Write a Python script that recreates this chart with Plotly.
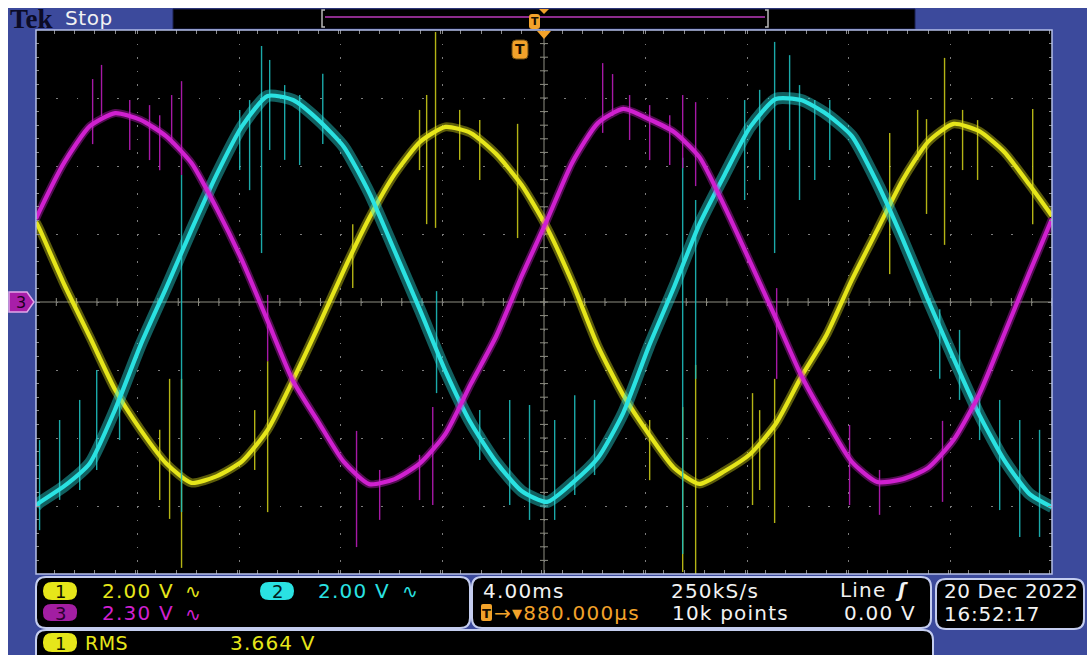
import plotly.graph_objects as go

W, H = 1087, 655

# ---------------- data (read from the screen) ----------------
# time relative to trigger, ms (4.00 ms/div, trigger 880 us left of centre)
t_ms = [-19.12, -19, -18, -17, -16, -15, -14, -13, -12, -11, -10, -9, -8, -7, -6, -5,
        -4, -3, -2, -1, 0, 1, 2, 3, 4, 5, 6, 7, 8, 9, 10, 11, 12, 13, 14, 15, 16,
        17, 18, 19, 20, 20.88]
# channel 1 (yellow) volts, 2.00 V/div
ch1_v = [2.35, 2.18, 0.50, -1.03, -2.59, -3.76, -4.74, -5.32, -5.12, -4.68, -3.76,
         -2.29, -0.71, 0.94, 2.47, 3.76, 4.71, 5.15, 4.97, 4.35, 3.44, 2.18, 0.56,
         -1.29, -2.74, -3.88, -4.88, -5.35, -4.97, -4.47, -3.59, -2.21, -0.97, 0.65,
         2.12, 3.59, 4.71, 5.24, 5.03, 4.41, 3.44, 2.53]
# channel 2 (cyan) volts, 2.00 V/div
ch2_v = [-6.00, -5.91, -5.41, -4.74, -3.15, -1.26, 0.41, 2.12, 3.76, 5.18, 6.06, 5.94,
         5.35, 4.56, 3.21, 1.50, -0.24, -2.03, -3.56, -4.71, -5.56, -5.88, -5.32,
         -4.59, -3.26, -1.32, 0.44, 2.29, 3.76, 5.15, 5.97, 5.94, 5.53, 4.88, 3.50,
         1.85, 0.06, -1.65, -3.29, -4.65, -5.65, -6.03]
# channel 3 (magenta) volts, 2.30 V/div
ch3_v = [2.81, 3.04, 4.73, 5.95, 6.39, 6.16, 5.61, 4.70, 3.15, 1.39, -0.64, -2.67,
         -4.06, -5.41, -6.16, -5.99, -5.45, -4.46, -2.77, -1.15, 0.88, 2.77, 4.73,
         6.05, 6.53, 6.19, 5.75, 4.90, 3.21, 1.35, -0.54, -2.47, -4.02, -5.41, -6.09,
         -5.99, -5.61, -4.67, -3.15, -1.08, 1.01, 2.81]

# switching spikes: time (ms), low and high excursion (V)
ch1_spk_t = [-13.39, -13.86, -10.0, -3.39, -3.74, -0.16, -6.65, 6.85, 6.34, 9.09, 9.96,
             16.65, 15.94, 14.49, 20.12, -4.02, -2.44, -1.65, 15.59, 17.36, 17.95,
             -14.25, 5.04, 9.37, -10.51]
ch1_spk_lo = [-7.82, -6.38, -6.18, 2.18, 2.29, 1.88, 0.41, -8.03, -7.94, -5.97, -6.50,
              1.68, 2.59, 0.82, 2.29, 3.88, 4.18, 3.59, 4.18, 3.88, 3.59,
              -5.82, -5.24, -5.53, -4.94]
ch1_spk_hi = [-2.26, -2.26, -1.74, 7.94, 6.09, 5.24, 2.29, -1.85, -3.09, -2.68, -2.26,
              7.18, 5.38, 4.97, 5.68, 5.65, 5.65, 5.35, 5.65, 5.65, 5.35,
              -3.76, -3.47, -3.18, -3.18]

ch2_spk_t = [-10.24, -13.39, -3.35, -7.83, 6.85, 6.34, 9.96, 16.46, -18.19, -17.40,
             -16.73, -0.47, 0.31, 2.09, 2.87, 18.82, 19.61, 20.39, -9.92, 10.55, -8.74,
             11.54, -11.10, -10.71, -9.33, 8.78, 9.37, 10.94, 12.13, -18.98, -15.83,
             -1.65, 1.30, 18.03, 17.24]
ch2_spk_lo = [1.44, -6.18, -2.68, 4.65, -2.26, -7.41, 1.44, -2.26, -5.82, -5.53, -4.94,
              -5.97, -6.41, -5.68, -5.09, -6.12, -6.91, -6.91, 4.47, 4.47, 4.03, 3.59,
              3.88, 3.29, 4.18, 3.00, 3.59, 3.00, 4.18, -6.71, -4.06,
              -4.65, -6.41, -4.06, -2.88]
ch2_spk_hi = [7.53, 3.74, 0.32, 6.71, 3.00, 4.24, 7.65, -0.21, -3.47, -2.88, -2.00,
              -2.88, -3.03, -2.74, -2.88, -2.88, -3.47, -3.76, 7.12, 7.26, 6.09, 5.94,
              5.65, 5.94, 6.38, 5.94, 6.24, 6.38, 5.94, -4.06, -2.59,
              -3.18, -3.47, -2.59, -0.82]

ch3_spk_t = [-16.54, -16.89, -13.39, -13.78, -10.0, -6.50, -3.50, 3.58, 3.19, 6.34, 6.85,
             10.04, 16.57, 12.91, -15.43, -14.65, -14.25, 4.25, 5.04, 5.83, -5.59,
             14.09, -4.02]
ch3_spk_lo = [6.29, 5.34, 4.30, 5.34, -2.00, -8.29, -6.87, 6.29, 5.72, 4.53, 3.92,
              -2.60, -6.76, -6.87, 5.14, 4.80, 4.46, 5.48, 4.80, 4.63, -7.37,
              -7.20, -6.70]
ch3_spk_hi = [8.02, 7.54, 7.47, 7.00, 0.24, -4.36, -3.55, 7.71, 8.08, 7.00, 6.76,
              0.47, -4.02, -4.16, 6.83, 6.66, 6.32, 7.00, 6.66, 6.32, -5.68,
              -5.68, -5.17]

# ---------------- colours ----------------
YEL = "#e6e61a"
CYA = "#2ae2e2"
MAG = "#d020d0"
BLUE = "#3c4a9c"
ORANGE = "#f2a22a"
WHITE = "#f2f2f2"
FONT = "DejaVu Sans"


def X(px):
    return px / W


def Y(py):
    return 1 - py / H


def spikes(ts, lo, hi):
    xs, ys = [], []
    for t, a, b in zip(ts, lo, hi):
        xs += [t, t, None]
        ys += [a, b, None]
    return xs, ys


fig = go.Figure()

channels = [
    (ch1_v, ch1_spk_t, ch1_spk_lo, ch1_spk_hi, YEL, "#c8c818", "y", 9, 0.4),
    (ch3_v, ch3_spk_t, ch3_spk_lo, ch3_spk_hi, MAG, "#b81cb8", "y3", 8, 0.4),
    (ch2_v, ch2_spk_t, ch2_spk_lo, ch2_spk_hi, CYA, "#1ebcbc", "y2", 12, 0.42),
]
for v, st, slo, shi, col, dark, ax, hw, hop in channels:
    sx, sy = spikes(st, slo, shi)
    fig.add_trace(go.Scatter(x=sx, y=sy, mode="lines", yaxis=ax,
                             line=dict(color=dark, width=1.4), opacity=0.9,
                             hoverinfo="skip", showlegend=False))
    fig.add_trace(go.Scatter(x=t_ms, y=v, mode="lines", yaxis=ax,
                             line=dict(color=col, width=hw, shape="spline", smoothing=0.6),
                             opacity=hop, hoverinfo="skip", showlegend=False))
    fig.add_trace(go.Scatter(x=t_ms, y=v, mode="lines", yaxis=ax,
                             line=dict(color=col, width=4.2, shape="spline", smoothing=0.6),
                             hoverinfo="skip", showlegend=False))

shapes = []
# white strips on the outer edge
shapes.append(dict(type="rect", xref="paper", yref="paper", x0=0, x1=1, y0=Y(8), y1=1,
                   fillcolor="white", line_width=0, layer="above"))
shapes.append(dict(type="rect", xref="paper", yref="paper", x0=0, x1=X(8), y0=0, y1=1,
                   fillcolor="white", line_width=0, layer="above"))


def rrect(x0, y0, x1, y1, r, fill, line="#c4cdef", lw=2):
    p = (f"M {X(x0 + r)},{Y(y0)} L {X(x1 - r)},{Y(y0)} Q {X(x1)},{Y(y0)} {X(x1)},{Y(y0 + r)} "
         f"L {X(x1)},{Y(y1 - r)} Q {X(x1)},{Y(y1)} {X(x1 - r)},{Y(y1)} "
         f"L {X(x0 + r)},{Y(y1)} Q {X(x0)},{Y(y1)} {X(x0)},{Y(y1 - r)} "
         f"L {X(x0)},{Y(y0 + r)} Q {X(x0)},{Y(y0)} {X(x0 + r)},{Y(y0)} Z")
    return dict(type="path", xref="paper", yref="paper", path=p, fillcolor=fill,
                line=dict(color=line, width=lw), layer="above")


# top record-view bar
shapes.append(dict(type="rect", xref="paper", yref="paper", x0=X(173), x1=X(915), y0=Y(29),
                   y1=Y(9), fillcolor="#000000", line=dict(color="#1a2050", width=1), layer="above"))
shapes.append(dict(type="line", xref="paper", yref="paper", x0=X(325), x1=X(765), y0=Y(17),
                   y1=Y(17), line=dict(color="#8c2c8c", width=2), layer="above"))
for bx, d in ((322, 1), (768, -1)):
    shapes.append(dict(type="path", xref="paper", yref="paper",
                       path=f"M {X(bx + 3 * d)},{Y(10)} L {X(bx)},{Y(10)} L {X(bx)},{Y(27)} L {X(bx + 3 * d)},{Y(27)}",
                       line=dict(color="#b8b8b8", width=1.5), layer="above"))
shapes.append(dict(type="path", xref="paper", yref="paper",
                   path=f"M {X(539)},{Y(9)} L {X(549)},{Y(9)} L {X(544)},{Y(14)} Z",
                   fillcolor=ORANGE, line_width=0, layer="above"))
shapes.append(rrect(529, 14, 540, 29, 3, ORANGE, line=ORANGE, lw=0))

# plot frame
shapes.append(dict(type="rect", xref="paper", yref="paper", x0=X(36), x1=X(1052), y0=Y(574),
                   y1=Y(30), line=dict(color="#b4bfe8", width=1.5), layer="above"))
# trigger markers inside the graticule
shapes.append(dict(type="path", xref="paper", yref="paper",
                   path=f"M {X(537)},{Y(31)} L {X(551)},{Y(31)} L {X(544)},{Y(39)} Z",
                   fillcolor=ORANGE, line_width=0, layer="above"))
shapes.append(rrect(512, 40, 528, 59, 4, ORANGE, line="#6a4a10", lw=1))

# centre crosshair
shapes.append(dict(type="line", xref="x", yref="y domain", x0=0.88, x1=0.88, y0=0, y1=1,
                   line=dict(color="#8e8e82", width=1), layer="below"))
shapes.append(dict(type="line", xref="x domain", yref="y", x0=0, x1=1, y0=0, y1=0,
                   line=dict(color="#8e8e82", width=1), layer="below"))
for k in range(-24, 26):
    xt = 0.88 + 0.8 * k
    shapes.append(dict(type="line", xref="x", yref="y domain", x0=xt, x1=xt,
                       y0=0.5 - 4 / 544, y1=0.5 + 4 / 544,
                       line=dict(color="#8e8e82", width=1), layer="below"))
for k in range(-19, 20):
    yt = 0.4 * k
    shapes.append(dict(type="line", xref="x domain", yref="y", x0=0.5 - 4 / 1016,
                       x1=0.5 + 4 / 1016, y0=yt, y1=yt,
                       line=dict(color="#8e8e82", width=1), layer="below"))

# ch3 ground marker on the left
shapes.append(dict(type="path", xref="paper", yref="paper",
                   path=f"M {X(9)},{Y(292)} L {X(27)},{Y(292)} L {X(34)},{Y(302)} L {X(27)},{Y(312)} L {X(9)},{Y(312)} Z",
                   fillcolor="#a81ea8", line=dict(color="#e0a8e8", width=1.5), layer="above"))

# bottom panels
shapes.append(rrect(36, 577, 470, 628, 10, "#000000"))
shapes.append(rrect(472, 577, 931, 628, 10, "#000000"))
shapes.append(rrect(936, 579, 1084, 629, 10, "#000000"))
shapes.append(rrect(36, 630, 933, 672, 10, "#000000"))
# channel badges
shapes.append(rrect(43, 582, 77, 600, 9, YEL, line=YEL, lw=0))
shapes.append(rrect(260, 582, 294, 600, 9, CYA, line=CYA, lw=0))
shapes.append(rrect(43, 604, 77, 621, 8, "#a21ea2", line="#a21ea2", lw=0))
shapes.append(rrect(43, 633, 77, 652, 9, YEL, line=YEL, lw=0))
shapes.append(rrect(481, 604, 492, 621, 2, ORANGE, line=ORANGE, lw=0))


def txt(s, px, py, color, size=20, anchor="left", family=FONT, sp=1.2):
    if sp:
        s = f'<span style="letter-spacing:{sp}px">{s}</span>'
    return dict(text=s, x=X(px), y=Y(py), xref="paper", yref="paper", xanchor=anchor,
                yanchor="middle", showarrow=False,
                font=dict(color=color, size=size, family=family))


ann = [
    txt("<b>Tek</b>", 8, 19, "#0b0b26", size=27, family="Liberation Serif", sp=0),
    txt("Stop", 63, 18, WHITE, size=20, sp=0.6),
    txt("<b>T</b>", 534.5, 22, "#1a1000", size=11, anchor="center", sp=0),
    txt("<b>T</b>", 520, 49, "#1a1000", size=14, anchor="center", sp=0),
    txt("3", 21, 302, "#1a0020", size=16, anchor="center", sp=0),
    txt("1", 60, 591, "#101000", size=18, anchor="center", sp=0),
    txt("2.00 V", 100, 591, YEL),
    txt("∿", 183, 591, YEL, size=19, sp=0),
    txt("2", 277, 591, "#002020", size=18, anchor="center", sp=0),
    txt("2.00 V", 316, 591, CYA),
    txt("∿", 400, 591, CYA, size=19, sp=0),
    txt("3", 60, 613, "#2a0030", size=18, anchor="center", sp=0),
    txt("2.30 V", 100, 613, MAG),
    txt("∿", 183, 614, MAG, size=19, sp=0),
    txt("1", 60, 643, "#101000", size=18, anchor="center", sp=0),
    txt("RMS", 83, 643, YEL, size=19, sp=0.5),
    txt("3.664 V", 228, 643, YEL),
    txt("4.00ms", 481, 591, WHITE),
    txt("250kS/s", 669, 591, WHITE),
    txt("Line", 838, 590, WHITE),
    txt("<b><i>ʃ</i></b>", 893, 590, WHITE, size=19, sp=0),
    txt("<b>T</b>", 486.5, 613, "#1a1000", size=13, anchor="center", sp=0),
    txt("→▾880.000µs", 492, 613, ORANGE),
    txt("10k points", 670, 613, WHITE),
    txt("0.00 V", 918, 613, WHITE, anchor="right"),
    txt("20 Dec 2022", 942, 591, WHITE, sp=0.6),
    txt("16:52:17", 942, 614, WHITE, sp=0.8),
]

fig.update_layout(
    width=W, height=H, autosize=False,
    margin=dict(l=0, r=0, t=0, b=0, pad=0),
    paper_bgcolor=BLUE, plot_bgcolor="#000000",
    showlegend=False,
    shapes=shapes, annotations=ann,
    xaxis=dict(domain=[X(36), X(1052)], range=[-19.12, 20.88], tick0=0.88, dtick=4,
               showticklabels=False, zeroline=False, showgrid=True,
               gridcolor="#7c7c7c", griddash="1.6px,12px", gridwidth=1,
               ticks="inside", ticklen=4, tickcolor="#8a8a8a", mirror="allticks",
               showline=False,
               minor=dict(dtick=0.8, ticks="inside", ticklen=3, tickcolor="#8a8a8a", showgrid=False),
               fixedrange=True),
    yaxis=dict(domain=[1 - 574 / H, 1 - 30 / H], range=[-8, 8], dtick=2, tick0=0,
               showticklabels=False, zeroline=False, showgrid=True,
               gridcolor="#7c7c7c", griddash="1.6px,18.72px", gridwidth=1,
               ticks="inside", ticklen=4, tickcolor="#8a8a8a", mirror="allticks",
               showline=False,
               minor=dict(dtick=0.4, ticks="inside", ticklen=3, tickcolor="#8a8a8a", showgrid=False),
               fixedrange=True),
    yaxis2=dict(overlaying="y", range=[-8, 8], visible=False, fixedrange=True),
    yaxis3=dict(overlaying="y", range=[-9.2, 9.2], visible=False, fixedrange=True),
)

fig.write_html("out.html")
